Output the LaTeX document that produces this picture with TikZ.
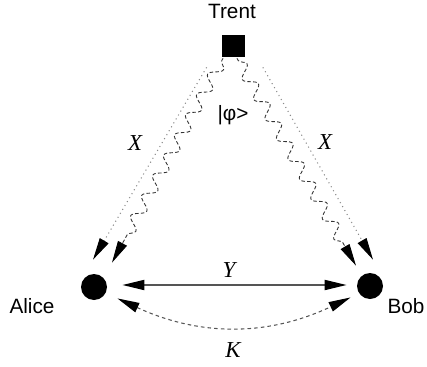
\documentclass[tikz,border=0pt]{standalone}
\usepackage{fontspec}
\usepackage{xcolor}
\usepackage{tikz}
\usetikzlibrary{arrows.meta,positioning,decorations.pathmorphing}
\newfontfamily\partyfont{Liberation Sans}
\newfontfamily\channelfont{Liberation Serif}
\definecolor{channelGray}{HTML}{555555}
\definecolor{photonGray}{HTML}{333333}
\definecolor{dotGray}{HTML}{8A8A8A}
\tikzset{
  party/.style={
    circle,
    fill=black,
    inner sep=0pt,
    minimum size=5.2mm
  },
  source/.style={
    rectangle,
    fill=black,
    inner sep=0pt,
    minimum width=4.6mm,
    minimum height=4.4mm
  },
  partyname/.style={
    font=\partyfont\fontsize{11.8}{13}\selectfont,
    inner sep=0pt
  },
  channelname/.style={
    font=\channelfont\itshape\fontsize{13}{15}\selectfont,
    inner sep=0pt
  },
  classicalArrow/.style={
    dotted,
    line width=0.6pt,
    draw=dotGray,
    -{Triangle[length=4.4mm,width=2mm,color=black]}
  },
  photonArrow/.style={
    draw=photonGray,
    line width=0.5pt,
    dash pattern=on 2pt off 1.3pt,
    decorate,
    decoration={
      snake,
      amplitude=1.2mm,
      segment length=4.6mm,
      pre length=0.5mm,
      post length=4.6mm
    },
    -{Triangle[length=4.4mm,width=2mm,color=black]}
  },
  publicArrow/.style={
    draw=channelGray,
    line width=1pt,
    {Triangle[length=4.4mm,width=2mm,color=black]}-{Triangle[length=4.4mm,width=2mm,color=black]}
  },
  keyArrow/.style={
    draw=channelGray,
    line width=0.6pt,
    dash pattern=on 2pt off 1.8pt,
    {Triangle[length=4.4mm,width=2mm,color=black]}-{Triangle[length=4.4mm,width=2mm,color=black]}
  }
}

\begin{document}
\begin{tikzpicture}
  \useasboundingbox (0,0) rectangle (8.54,7.32);
  % parties
  \node[source] (trent) at (4.67,6.40) {};
  \node[party] (alice) at (1.88,1.58) {};
  \node[party] (bob) at (7.40,1.60) {};
  \node[partyname] (trentName) at (4.64,7.10) {Trent};
  \node[partyname] (aliceName) at (0.64,1.20) {Alice};
  \node[partyname] (bobName) at (8.12,1.20) {Bob};
  % channel labels
  \node[partyname] (state) at (4.66,5.02) {|φ>};
  \node[channelname] (xLeft) at (2.70,4.46) {X};
  \node[channelname] (xRight) at (6.50,4.48) {X};
  \node[channelname] (yLabel) at (4.58,1.92) {Y};
  \node[channelname] (kLabel) at (4.66,0.32) {K};
  % classical and quantum channels from Trent
  \draw[classicalArrow] ([shift={(-0.30,-0.20)}]trent.south west) -- ([shift={(-0.02,0.28)}]alice.north);
  \draw[classicalArrow] ([shift={(0.35,-0.20)}]trent.south east) -- ([shift={(0.06,0.26)}]bob.north);
  \draw[photonArrow] ([shift={(-0.21,-0.02)}]trent.south) -- ([shift={(0.36,0.22)}]alice.north);
  \draw[photonArrow] ([shift={(0.07,-0.02)}]trent.south) -- ([shift={(-0.28,0.14)}]bob.north);
  % Alice <-> Bob
  \draw[publicArrow] ([shift={(0.30,0.04)}]alice.east) -- ([shift={(-0.20,0.02)}]bob.west);
  \draw[keyArrow] ([shift={(0.28,-0.04)}]alice.south east) to[bend right=25] ([shift={(-0.20,-0.04)}]bob.south west);
\end{tikzpicture}
\end{document}
